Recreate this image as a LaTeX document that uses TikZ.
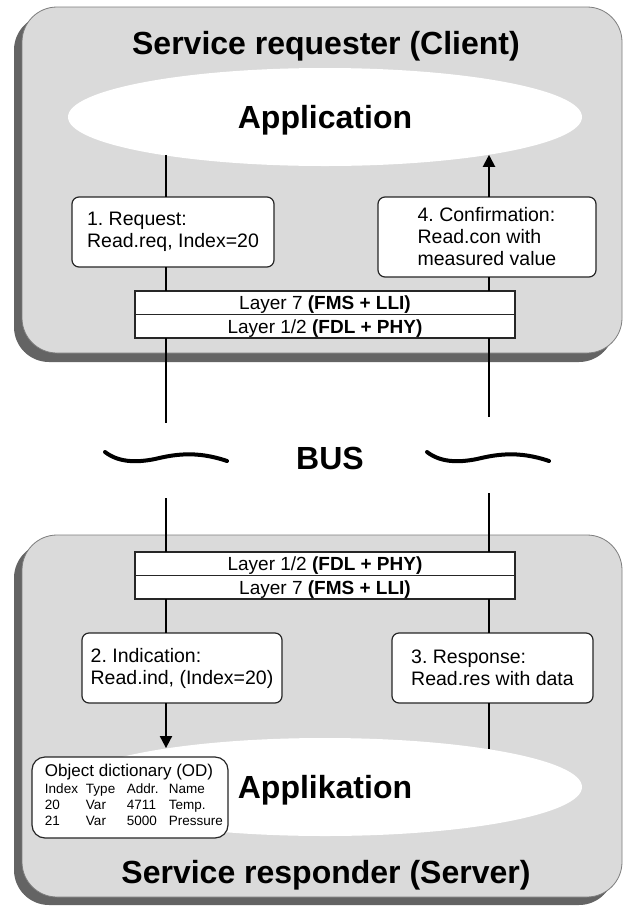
\documentclass[tikz,border=0pt]{standalone}
\usepackage{fontspec}
\setmainfont{Liberation Sans}
\usetikzlibrary{shapes.geometric,arrows.meta}
\definecolor{boxgray}{RGB}{218,218,218}
\definecolor{shadowgray}{RGB}{100,100,100}
\definecolor{bordergray}{RGB}{125,125,125}
\frenchspacing
\begin{document}
\begin{tikzpicture}[x=1pt,y=-1pt,
  shadowbox/.style={fill=shadowgray, rounded corners=35pt},
  bigbox/.style={fill=boxgray, draw=bordergray, line width=0.8pt, rounded corners=35pt},
  ttl/.style={font=\fontsize{32}{38}\selectfont\bfseries, text depth=0pt, inner sep=0pt},
  app/.style={ellipse, fill=white, minimum width=514pt, minimum height=98pt, inner sep=0pt, outer sep=0pt, text depth=0pt, font=\fontsize{32}{38}\selectfont\bfseries},
  msg/.style={draw=black!85, fill=white, rounded corners=7pt, line width=1.2pt, align=left, inner sep=0pt, outer sep=0pt, font=\fontsize{19.5}{22}\selectfont, execute at begin node={\rule{0pt}{21pt}}},
  layer/.style={draw=black!85, fill=white, line width=1.2pt, minimum width=380pt, minimum height=23.5pt, inner sep=0pt, outer sep=0pt, text depth=0pt, font=\fontsize{19}{22}\selectfont},
  odbox/.style={draw=black!85, fill=white, rounded corners=13pt, line width=1.2pt, minimum width=196pt, minimum height=81pt, inner sep=0pt, outer sep=0pt, font=\fontsize{13.5}{16}\selectfont},
  conn/.style={line width=2pt},
  arr/.style={conn, -{Triangle[width=12pt,length=12pt]}},
  wave/.style={line width=4pt, line cap=round}]
\useasboundingbox (0,0) rectangle (624,906);
\fill[white] (0,0) rectangle (624,906);

% big boxes with shadow
\fill[shadowbox] (14,15) rectangle (614,362);
\filldraw[bigbox] (22,7) rectangle (622,353);
\fill[shadowbox] (14,543) rectangle (614,905);
\filldraw[bigbox] (22,535) rectangle (622,897);

% titles
\node[ttl] (t1) at (326,43) {Service requester (Client)};
\node[ttl] (t2) at (326,872) {Service responder (Server)};
\node[ttl] (bus) at (330,458) {BUS};

% ellipses
\node[app] (app1) at (325,117) {Application};
\node[app] (app2) at (325,787) {Applikation};

% message boxes
\node[msg, minimum width=202pt, minimum height=70pt] (box1) at (173,232) {1. Request:\\Read.req, Index=20};
\node[msg, minimum width=218pt, minimum height=80pt] (box4) at (487,237) {4. Confirmation:\\Read.con with\\measured value};
\node[msg, minimum width=200pt, minimum height=70pt] (box2) at (182,668) {2. Indication:\\Read.ind, (Index=20)};
\node[msg, minimum width=201pt, minimum height=70pt] (box3) at (492.5,668) {3. Response:\\Read.res with data};

% layer boxes
\node[layer] (l7a) at (325,302.75) {Layer 7 \textbf{(FMS + LLI)}};
\node[layer] (l12a) at (325,326.25) {Layer 1/2 \textbf{(FDL + PHY)}};
\node[layer] (l12b) at (325,563.75) {Layer 1/2 \textbf{(FDL + PHY)}};
\node[layer] (l7b) at (325,587.25) {Layer 7 \textbf{(FMS + LLI)}};

% object dictionary
\node[odbox] (od) at (130,797.5) {%
\begin{tabular}{@{\hspace{8pt}}p{41pt}@{}p{41pt}@{}p{42pt}@{}l@{}}
\multicolumn{4}{@{\hspace{8pt}}l@{}}{\fontsize{17}{17}\selectfont Object dictionary (OD)}\\[1pt]
Index & Type & Addr. & Name\\
20 & Var & 4711 & Temp.\\
21 & Var & 5000 & Pressure
\end{tabular}};

% line positions and free ends
\coordinate (xl) at (166,0);
\coordinate (xr) at (489,0);
\coordinate (tl) at (166,423);
\coordinate (tr) at (489,417);
\coordinate (bl) at (166,498);
\coordinate (br) at (489,493);

% client side connectors
\draw[conn] (app1.193.6 -| xl) -- (box1.north -| xl);
\draw[conn] (box1.south -| xl) -- (l7a.north -| xl);
\draw[conn] (l12a.south -| xl) -- (tl);
\draw[conn] (tr) -- (l12a.south -| xr);
\draw[conn] (l7a.north -| xr) -- (box4.south -| xr);
\draw[arr] (box4.north -| xr) -- (app1.347 -| xr);

% server side connectors
\draw[conn] (bl) -- (l12b.north -| xl);
\draw[conn] (l7b.south -| xl) -- (box2.north -| xl);
\draw[arr] (box2.south -| xl) -- (app2.166.4 -| xl);
\draw[conn] (br) -- (l12b.north -| xr);
\draw[conn] (l7b.south -| xr) -- (box3.north -| xr);
\draw[conn] (box3.south -| xr) -- (app2.13 -| xr);

% bus waves
\draw[wave] (105,452) .. controls (118,462) and (135,463) .. (155,459) .. controls (172,455) and (195,450) .. (227,461);
\draw[wave] (427,452) .. controls (440,462) and (457,463) .. (477,459) .. controls (494,455) and (517,450) .. (549,461);
\end{tikzpicture}
\end{document}
